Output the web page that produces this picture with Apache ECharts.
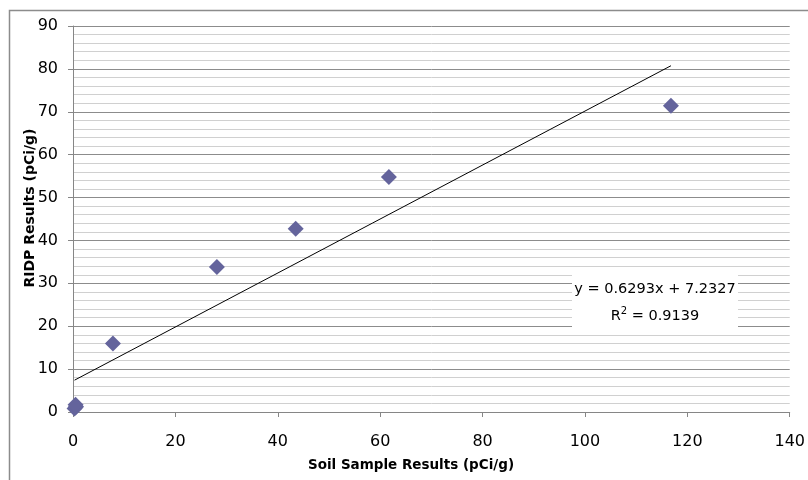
<!DOCTYPE html>
<html><head><meta charset="utf-8">
<script src="https://cdn.jsdelivr.net/npm/echarts@6/dist/echarts.min.js"></script>
<style>html,body{margin:0;padding:0;background:#fff}#c{width:808px;height:480px}</style>
</head><body><div id="c"></div>
<script>
var soilX = [0.3, 0.6, 0.5, 7.8, 28.1, 43.5, 61.7, 116.8];
var ridpY = [0.8, 1.2, 1.7, 16.0, 33.8, 42.7, 54.8, 71.4];
var trendSlope = 0.6293;
var trendIntercept = 7.2327;
var trendText = ['y = 0.6293x + 7.2327', 'R{sup|2} = 0.9139'];
var xTitle = 'Soil Sample Results (pCi/g)';
var yTitle = 'RIDP Results (pCi/g)';

var pts = soilX.map(function(x,i){return [x, ridpY[i]];});
var xmin = Math.min.apply(null, soilX), xmax = Math.max.apply(null, soilX);
var trend = [[xmin, trendSlope*xmin+trendIntercept],[xmax, trendSlope*xmax+trendIntercept]];

var font = '"DejaVu Sans", Verdana, sans-serif';
var chart = echarts.init(document.getElementById('c'));
chart.setOption({
  animation:false,
  textStyle:{fontFamily:font},
  grid:{left:73,right:14,top:26,bottom:68},
  xAxis:{type:'value',min:0,max:140,interval:20,
    axisLine:{lineStyle:{color:'#868686'}},
    axisTick:{show:true,length:5,lineStyle:{color:'#868686'}},
    axisLabel:{color:'#000',fontSize:16,fontFamily:font,margin:22},
    splitLine:{show:false}},
  yAxis:{type:'value',min:0,max:90,interval:10,
    axisLine:{show:true,lineStyle:{color:'#868686'}},
    axisTick:{show:true,length:5,lineStyle:{color:'#868686'}},
    axisLabel:{color:'#000',fontSize:16,fontFamily:font,margin:15},
    splitLine:{show:true,lineStyle:{color:'#8c8c8c',width:1}},
    minorTick:{show:false,splitNumber:5},
    minorSplitLine:{show:true,lineStyle:{color:'#d0d0d0',width:1}}},
  series:[
    {type:'line',data:trend,symbol:'none',lineStyle:{color:'#000',width:1},z:3,silent:true},
    {type:'scatter',data:pts,symbol:'diamond',symbolSize:16,itemStyle:{color:'#64649c',opacity:1},z:4}
  ],
  graphic:[
    {type:'polyline',shape:{points:[[9.5,490],[9.5,10.5],[820,10.5]]},style:{fill:'none',stroke:'#8c8c8c',lineWidth:1.5},silent:true,z:-10},
    {type:'text',x:411,y:465,z:10,style:{text:xTitle,fontFamily:font,fontWeight:'bold',fontSize:13.5,fill:'#000',align:'center',verticalAlign:'middle'}},
    {type:'text',x:30,y:208,rotation:Math.PI/2,z:10,style:{text:yTitle,fontFamily:font,fontWeight:'bold',fontSize:14,fill:'#000',align:'center',verticalAlign:'middle'}},
    {type:'rect',shape:{x:572,y:275,width:166,height:57},style:{fill:'#fff'},z:9},
    {type:'text',x:655,y:289,z:10,style:{text:trendText[0],fontFamily:font,fontSize:14.5,fill:'#000',align:'center',verticalAlign:'middle'}},
    {type:'text',x:655,y:316,z:10,style:{text:trendText[1],fontFamily:font,fontSize:14.5,fill:'#000',align:'center',verticalAlign:'middle',
      rich:{sup:{fontSize:10,fontFamily:font,verticalAlign:'bottom',padding:[0,0,10,0]}}}}
  ]
});
</script></body></html>
